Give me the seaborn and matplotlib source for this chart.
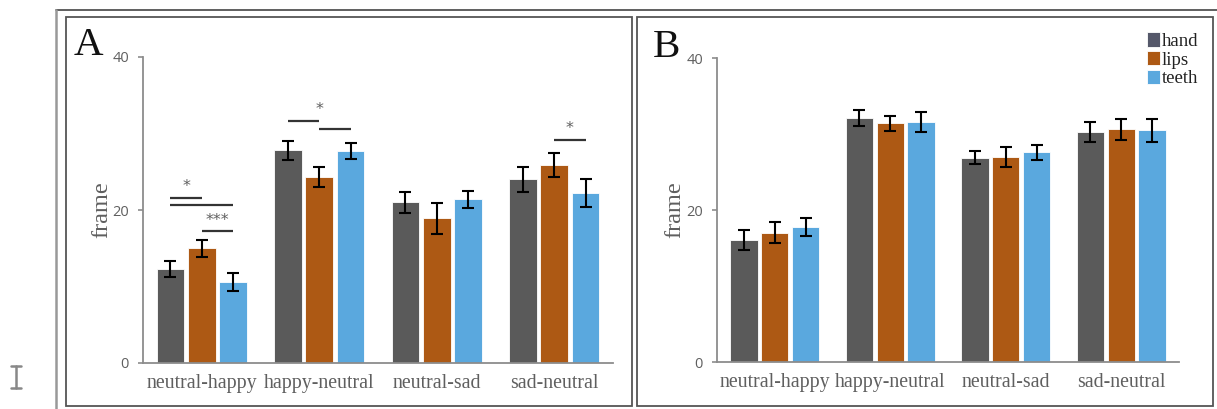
import pandas as pd
import numpy as np
import matplotlib
matplotlib.use("Agg")
import matplotlib.pyplot as plt
import seaborn as sns
from matplotlib.patches import Rectangle
from matplotlib.lines import Line2D
from matplotlib.container import BarContainer

# ── DATA ───────────────────────────────────────────────
categories = ['neutral-happy', 'happy-neutral', 'neutral-sad', 'sad-neutral']
groups = ['hand', 'lips', 'teeth']
colors = ['#5a5a5a', '#ad5914', '#5aa8de']

# panel A
a_hand = [12.3, 27.8, 21.0, 24.0]
a_lips = [15.0, 24.3, 18.9, 25.9]
a_teeth = [10.6, 27.7, 21.4, 22.2]
a_hand_err = [1.0, 1.2, 1.4, 1.6]
a_lips_err = [1.1, 1.3, 2.0, 1.6]
a_teeth_err = [1.2, 1.0, 1.1, 1.8]

# panel B
b_hand = [16.1, 32.1, 26.9, 30.3]
b_lips = [17.0, 31.4, 27.0, 30.6]
b_teeth = [17.8, 31.6, 27.6, 30.5]
b_hand_err = [1.3, 1.0, 0.8, 1.3]
b_lips_err = [1.4, 1.0, 1.3, 1.4]
b_teeth_err = [1.2, 1.3, 1.0, 1.5]

# significance marks in panel A: (category, from group, to group, height, label)
sig_lines = [
    (0, 0, 1, 21.6, '*'),
    (0, 0, 2, 20.6, ''),
    (0, 1, 2, 17.2, '***'),
    (1, 0, 1, 31.6, '*'),
    (1, 1, 2, 30.6, ''),
    (3, 1, 2, 29.2, '*'),
]


def long_df(hand, lips, teeth):
    rows = []
    for g, vals in zip(groups, [hand, lips, teeth]):
        for c, v in zip(categories, vals):
            rows.append({'cond': c, 'part': g, 'frame': v})
    return pd.DataFrame(rows)


df_a = long_df(a_hand, a_lips, a_teeth)
df_b = long_df(b_hand, b_lips, b_teeth)

# ── STYLE ──────────────────────────────────────────────
sns.set_style('white')
plt.rcParams['font.family'] = ['Liberation Serif', 'DejaVu Serif']

W, H = 1217, 409
fig = plt.figure(figsize=(W / 100, H / 100), dpi=100)


def px(x0, y0, x1, y1):
    # pixel box -> figure fraction rect
    return [x0 / W, 1 - y1 / H, (x1 - x0) / W, (y1 - y0) / H]


ax_a = fig.add_axes(px(143, 57, 613, 363))
ax_b = fig.add_axes(px(717, 58, 1179, 362))

gray = '#8c8c8c'
txt_gray = '#5f5f5f'


def draw_panel(ax, df, errs, show_legend, label_x):
    sns.barplot(data=df, x='cond', y='frame', hue='part', order=categories,
                hue_order=groups, palette=colors, saturation=1, errorbar=None,
                gap=0.12, width=0.8, edgecolor='white', linewidth=0.6,
                legend=show_legend, ax=ax)
    bars = [c for c in ax.containers if isinstance(c, BarContainer)]
    for cont, err in zip(bars, errs):
        xs = [b.get_x() + b.get_width() / 2 for b in cont]
        hs = [b.get_height() for b in cont]
        ax.errorbar(xs, hs, yerr=err, fmt='none', ecolor='black',
                    elinewidth=1.5, capsize=4.5, capthick=1.5, zorder=5)
    ax.set_ylim(0, 40)
    ax.set_yticks([0, 20, 40])
    ax.set_xlim(-0.5, 3.5)
    ax.set_xlabel('')
    ax.set_ylabel('frame', fontsize=17.5, color=txt_gray)
    ax.yaxis.set_label_coords(label_x, 0.5)
    for s in ['top', 'right']:
        ax.spines[s].set_visible(False)
    for s in ['left', 'bottom']:
        ax.spines[s].set_color(gray)
        ax.spines[s].set_linewidth(1.3)
    ax.tick_params(axis='y', length=3.6, width=1.2, color=gray, pad=6.5,
                   labelsize=10.5, labelcolor=txt_gray, left=True)
    ax.tick_params(axis='x', length=0, pad=8, labelsize=14.3, labelcolor=txt_gray)
    for t in ax.get_yticklabels():
        t.set_fontfamily('Open Sans')
    return bars


bars_a = draw_panel(ax_a, df_a, [a_hand_err, a_lips_err, a_teeth_err], False, -0.066)
draw_panel(ax_b, df_b, [b_hand_err, b_lips_err, b_teeth_err], True, -0.069)

# significance lines in panel A
centers = [[b.get_x() + b.get_width() / 2 for b in cont] for cont in bars_a]
for ci, g0, g1, yv, lab in sig_lines:
    x0, x1 = centers[g0][ci], centers[g1][ci]
    ax_a.plot([x0, x1], [yv, yv], color='#333333', lw=1.6, solid_capstyle='butt')
    if lab:
        xm = (x0 + x1) / 2
        if ci == 1:
            xm = x1
        ax_a.text(xm, yv + 0.5, lab, ha='center', va='bottom', fontsize=11.5,
                  color=txt_gray, family='DejaVu Sans')

# legend
leg = ax_b.legend(loc='upper left', bbox_to_anchor=(1138 / W, 1 - 23 / H),
                  bbox_transform=fig.transFigure, frameon=False, borderpad=0,
                  handlelength=0.65, handleheight=0.8, handletextpad=0.12,
                  labelspacing=0.05, fontsize=13.5, title=None)
for t in leg.get_texts():
    t.set_color('#222222')
leg.legend_handles[0].set_facecolor('#55586a')

# panel letters
fig.text(74 / W, 1 - 55 / H, 'A', fontsize=29.5, color='#111111', va='baseline')
fig.text(653 / W, 1 - 57 / H, 'B', fontsize=29.5, color='#111111', va='baseline')

# frames
fig.add_artist(Rectangle((66 / W, 1 - 406 / H), (632 - 66) / W, (406 - 17) / H,
                         transform=fig.transFigure, fill=False, ec='#555555', lw=1.3))
fig.add_artist(Rectangle((637 / W, 1 - 406 / H), (1213 - 637) / W, (406 - 17) / H,
                         transform=fig.transFigure, fill=False, ec='#555555', lw=1.3))
fig.add_artist(Line2D([56 / W, 1], [1 - 9.5 / H, 1 - 9.5 / H],
                      transform=fig.transFigure, color='#444444', lw=1.2))
fig.add_artist(Line2D([56 / W, 56 / W], [0, 1 - 9.5 / H],
                      transform=fig.transFigure, color='#999999', lw=1.8))

# small I mark at lower left
fig.add_artist(Line2D([15.5 / W, 15.5 / W], [1 - 388 / H, 1 - 366 / H],
                      transform=fig.transFigure, color='#888888', lw=1.8))
for yy in [366, 388]:
    fig.add_artist(Line2D([11 / W, 21 / W], [1 - yy / H, 1 - yy / H],
                          transform=fig.transFigure, color='#888888', lw=1.8))

plt.savefig('out.png', dpi=100)
